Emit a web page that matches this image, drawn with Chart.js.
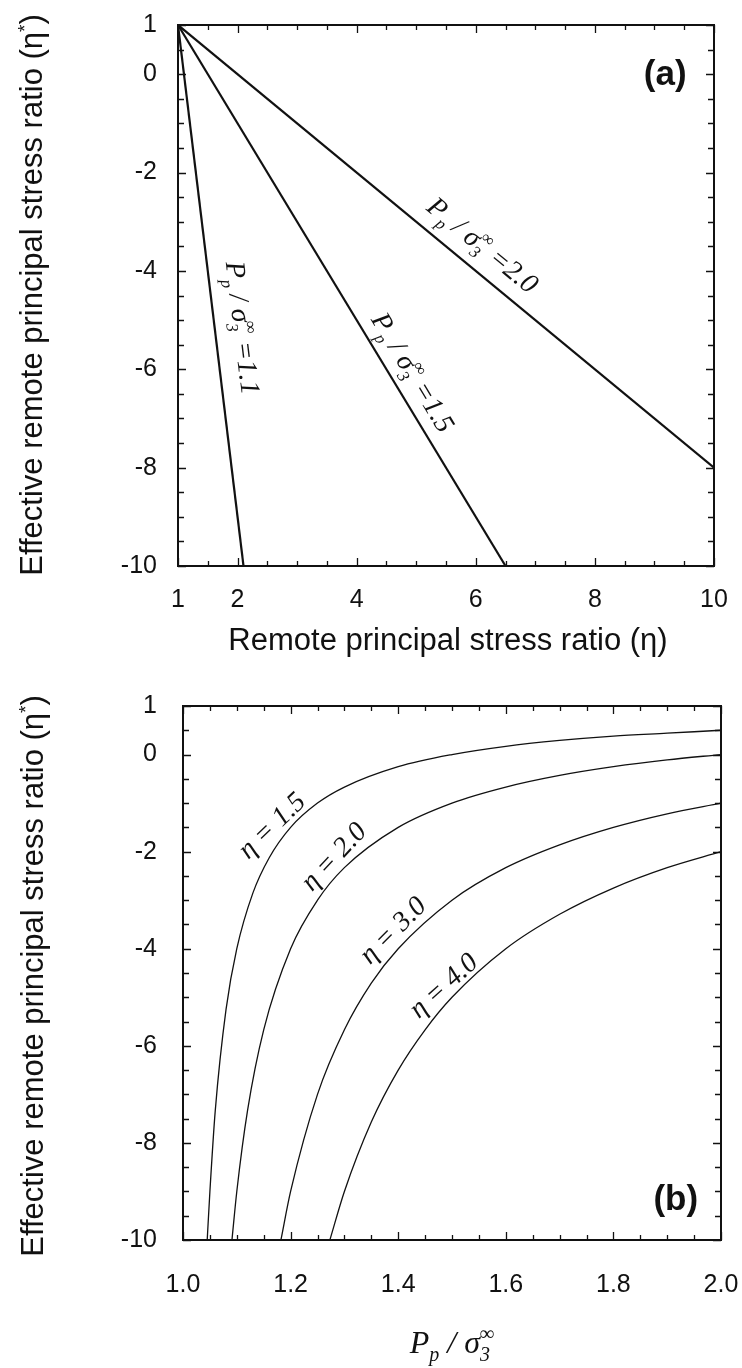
<!DOCTYPE html>
<html lang="en">
<head>
  <meta charset="UTF-8">
  <title>Effective remote principal stress ratio</title>
  <script src="https://cdn.jsdelivr.net/npm/chart.js"></script>
  <style>
    html, body { margin: 0; padding: 0; background: #fff; overflow: hidden; }
    canvas { position: absolute; left: 0; }
    #chartA { top: 0; }
    #chartB { top: 680px; }
  </style>
</head>
<body>
  <canvas id="chartA" width="742" height="680"></canvas>
  <canvas id="chartB" width="742" height="688"></canvas>

  <script>
    // ---- panel (a): eta* against eta, one straight line per Pp/sigma3 ----
    const ppRatiosA = ['1.1', '1.5', '2.0'];
    const etaA = [[1.0, 2.1], [1.0, 6.5], [1.0, 10.0]];
    const etaStarA = [[1.0, -10.0], [1.0, -10.0], [1.0, -8.0]];
    const xTicksA = [1, 2, 4, 6, 8, 10];
    const yTicksA = [1, 0, -2, -4, -6, -8, -10];

    // ---- panel (b): eta* against Pp/sigma3, one curve per eta ----
    const etaValuesB = ['1.5', '2.0', '3.0', '4.0'];
    const ppB = [
      [1.045, 1.05, 1.06, 1.08, 1.10, 1.13, 1.16, 1.20, 1.25, 1.30, 1.40, 1.50, 1.60, 1.70, 1.80, 1.90, 2.00],
      [1.091, 1.10, 1.12, 1.15, 1.20, 1.25, 1.30, 1.40, 1.50, 1.60, 1.70, 1.80, 1.90, 2.00],
      [1.182, 1.20, 1.25, 1.30, 1.35, 1.40, 1.50, 1.60, 1.70, 1.80, 1.90, 2.00],
      [1.273, 1.30, 1.35, 1.40, 1.45, 1.50, 1.60, 1.70, 1.80, 1.90, 2.00]
    ];
    const etaStarB = [
      [-10.0, -9.0, -7.33, -5.25, -4.0, -2.85, -2.13, -1.5, -1.0, -0.67, -0.25, 0.0, 0.17, 0.29, 0.38, 0.44, 0.5],
      [-10.0, -9.0, -7.33, -5.67, -4.0, -3.0, -2.33, -1.5, -1.0, -0.67, -0.43, -0.25, -0.11, 0.0],
      [-10.0, -9.0, -7.0, -5.67, -4.71, -4.0, -3.0, -2.33, -1.86, -1.5, -1.22, -1.0],
      [-10.0, -9.0, -7.57, -6.5, -5.67, -5.0, -4.0, -3.29, -2.75, -2.33, -2.0]
    ];
    const xTicksB = [1.0, 1.2, 1.4, 1.6, 1.8, 2.0];
    const yTicksB = [1, 0, -2, -4, -6, -8, -10];

    const INK = '#111';
    const SANS = '"Liberation Sans", Arial, Helvetica, sans-serif';
    const SERIF = '"Liberation Serif", "Times New Roman", serif';

    // text made of runs: 'n' normal, 'sub' subscript, 'sup' superscript,
    // 'stack' superscript sitting over the previous subscript
    function drawRich(ctx, note, x, y, angle) {
      const size = note.size;
      const fontFor = k => `${note.style || 'normal'} ${k === 'n' ? size : Math.round(size * 0.62)}px ${note.family}`;
      const shift = { n: 0, sub: 0.24, sup: -0.36, stack: -0.42 };
      const runs = [];
      let pos = 0, lastStart = 0;
      for (const [t, k] of note.parts) {
        ctx.font = fontFor(k);
        const w = ctx.measureText(t).width;
        if (k === 'stack') {
          runs.push({ t, k, x: lastStart });
          pos = Math.max(pos, lastStart + w);
        } else {
          runs.push({ t, k, x: pos });
          lastStart = pos;
          pos += w;
        }
      }
      ctx.save();
      ctx.translate(x, y);
      ctx.rotate(angle * Math.PI / 180);
      ctx.fillStyle = INK;
      ctx.textAlign = 'left';
      ctx.textBaseline = 'alphabetic';
      const x0 = -pos / 2;
      const y0 = note.mid ? size * 0.33 : 0;
      for (const r of runs) {
        ctx.font = fontFor(r.k);
        ctx.fillText(r.t, x0 + r.x, y0 + shift[r.k] * size);
      }
      ctx.restore();
    }

    // closed frame with inward tick marks on all four sides
    function makeFrame(xStep, yStep, xMajor, yMajor) {
      const near = (v, list) => list.some(m => Math.abs(m - v) < 1e-6);
      return {
        id: 'frameTicks',
        afterDatasetsDraw(chart) {
          const { ctx, chartArea: a, scales: { x, y } } = chart;
          ctx.save();
          ctx.strokeStyle = INK;
          ctx.lineWidth = 1.3;
          ctx.beginPath();
          const nx = Math.round((x.max - x.min) / xStep);
          for (let i = 0; i <= nx; i++) {
            const v = x.min + i * xStep;
            const px = Math.round(x.getPixelForValue(v)) + 0.5;
            const len = near(v, xMajor) ? 8 : 5;
            ctx.moveTo(px, a.bottom); ctx.lineTo(px, a.bottom - len);
            ctx.moveTo(px, a.top); ctx.lineTo(px, a.top + len);
          }
          const ny = Math.round((y.max - y.min) / yStep);
          for (let i = 0; i <= ny; i++) {
            const v = y.min + i * yStep;
            const py = Math.round(y.getPixelForValue(v)) + 0.5;
            const len = near(v, yMajor) ? 8 : 6;
            ctx.moveTo(a.left, py); ctx.lineTo(a.left + len, py);
            ctx.moveTo(a.right, py); ctx.lineTo(a.right - len, py);
          }
          ctx.stroke();
          ctx.lineWidth = 2;
          ctx.strokeRect(a.left, a.top, a.right - a.left, a.bottom - a.top);
          ctx.restore();
        }
      };
    }

    // axis titles (canvas pixels) and in-plot labels (data coordinates)
    function makeNotes(items) {
      return {
        id: 'notes',
        afterDraw(chart) {
          const { ctx, scales: { x, y } } = chart;
          for (const n of items) {
            let px, py, ang = n.angle || 0;
            if (n.at) {
              px = x.getPixelForValue(n.at[0]);
              py = y.getPixelForValue(n.at[1]);
            } else {
              px = n.px[0];
              py = n.px[1];
            }
            if (n.along !== undefined) {
              const pts = chart.getDatasetMeta(n.along).data;
              const p0 = pts[0], p1 = pts[pts.length - 1];
              ang = Math.atan2(p1.y - p0.y, p1.x - p0.x) * 180 / Math.PI;
            }
            drawRich(ctx, n, px, py, ang);
          }
        }
      };
    }

    function axis(min, max, ticks, fmt, size, pad, fitKey) {
      return {
        type: 'linear', min, max,
        afterBuildTicks: s => { s.ticks = ticks.map(v => ({ value: v })); },
        afterFit: s => {
          s[fitKey] = size;
          // keep end labels from pushing the plot area in
          s.paddingTop = s.paddingBottom = s.paddingLeft = s.paddingRight = 0;
        },
        grid: { display: false, drawTicks: false },
        border: { display: false },
        ticks: {
          autoSkip: false, maxRotation: 0, padding: pad, color: INK,
          font: { family: SANS, size: 25 },
          callback: v => fmt(v)
        }
      };
    }

    const ratioLabel = r => [['P', 'n'], ['p', 'sub'], [' / ', 'n'], ['σ', 'n'], ['3', 'sub'], ['∞', 'stack'], [' =' + r, 'n']];
    const yTitle = [['Effective remote principal stress ratio (η', 'n'], ['*', 'sup'], [')', 'n']];

    new Chart(document.getElementById('chartA'), {
      type: 'scatter',
      data: {
        datasets: ppRatiosA.map((r, i) => ({
          label: r,
          data: etaA[i].map((e, j) => ({ x: e, y: etaStarA[i][j] })),
          showLine: true, borderColor: INK, borderWidth: 2.2, pointRadius: 0
        }))
      },
      options: {
        responsive: false, animation: false, events: [],
        layout: { padding: { top: 25, right: 28, left: 0, bottom: 0 } },
        scales: {
          x: axis(1, 10, xTicksA, v => String(v), 114, 19, 'height'),
          y: axis(-10, 1, yTicksA, v => String(v), 178, 21, 'width')
        },
        plugins: { legend: { display: false }, tooltip: { enabled: false } }
      },
      plugins: [
        makeFrame(0.5, 0.5, xTicksA, yTicksA),
        makeNotes([
          { px: [42, 295], angle: -90, parts: yTitle, size: 31, family: SANS },
          { px: [448, 650], parts: [['Remote principal stress ratio (η)', 'n']], size: 31, family: SANS },
          { at: [2.09, -5.16], along: 0, mid: true, parts: ratioLabel(ppRatiosA[0]), size: 28, family: SERIF, style: 'italic' },
          { at: [4.95, -6.06], along: 1, mid: true, parts: ratioLabel(ppRatiosA[1]), size: 28, family: SERIF, style: 'italic' },
          { at: [6.12, -3.47], along: 2, mid: true, parts: ratioLabel(ppRatiosA[2]), size: 28, family: SERIF, style: 'italic' },
          { at: [9.18, 0.02], mid: true, parts: [['(a)', 'n']], size: 35, family: SANS, style: 'bold' }
        ])
      ]
    });

    const etaAngles = [-44, -47, -45, -42];
    const etaSpots = [[1.164, -1.45], [1.279, -2.09], [1.389, -3.61], [1.483, -4.75]];

    new Chart(document.getElementById('chartB'), {
      type: 'scatter',
      data: {
        datasets: etaValuesB.map((e, i) => ({
          label: e,
          data: ppB[i].map((p, j) => ({ x: p, y: etaStarB[i][j] })),
          showLine: true, borderColor: INK, borderWidth: 1.3, pointRadius: 0,
          cubicInterpolationMode: 'monotone'
        }))
      },
      options: {
        responsive: false, animation: false, events: [],
        layout: { padding: { top: 26, right: 21, left: 0, bottom: 0 } },
        scales: {
          x: axis(1, 2, xTicksB, v => v.toFixed(1), 128, 30, 'height'),
          y: axis(-10, 1, yTicksB, v => String(v), 183, 26, 'width')
        },
        plugins: { legend: { display: false }, tooltip: { enabled: false } }
      },
      plugins: [
        makeFrame(0.05, 0.5, xTicksB, yTicksB),
        makeNotes([
          { px: [43, 296], angle: -90, parts: yTitle, size: 31, family: SANS },
          { px: [452, 673], parts: [['P', 'n'], ['p', 'sub'], [' / ', 'n'], ['σ', 'n'], ['3', 'sub'], ['∞', 'stack']], size: 32, family: SERIF, style: 'italic' },
          ...etaValuesB.map((e, i) => ({
            at: etaSpots[i], angle: etaAngles[i], mid: true,
            parts: [['η = ' + e, 'n']], size: 28, family: SERIF, style: 'italic'
          })),
          { at: [1.916, -9.15], mid: true, parts: [['(b)', 'n']], size: 35, family: SANS, style: 'bold' }
        ])
      ]
    });
  </script>
</body>
</html>
